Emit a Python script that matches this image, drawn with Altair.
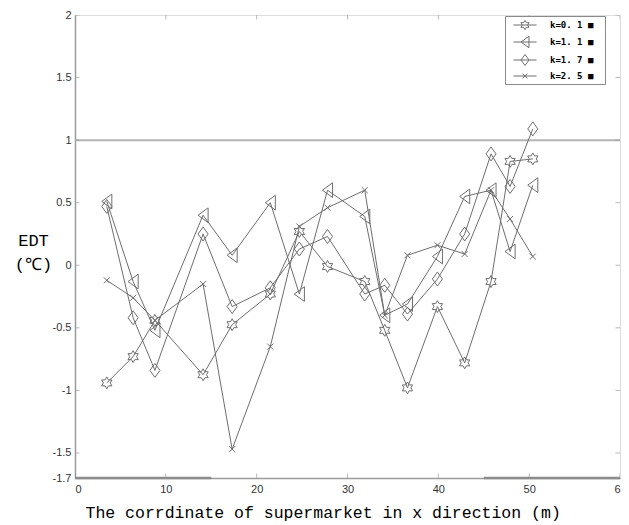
import math
import altair as alt
import pandas as pd

# ---------------- data ----------------
series = ["k=0. 1 ■", "k=1. 1 ■", "k=1. 7 ■", "k=2. 5 ■"]
x_pos = [3.5, 6.4, 8.8, 14.1, 17.3, 21.5, 24.7, 27.8, 31.9, 34.1, 36.6, 39.9, 42.9, 45.8, 47.9, 50.4]
y_k01 = [-0.94, -0.73, -0.44, -0.875, -0.475, -0.23, 0.27, -0.01, -0.13, -0.52, -0.98, -0.33, -0.78, -0.13, 0.83, 0.85]
y_k11 = [0.51, -0.13, -0.52, 0.40, 0.08, 0.50, -0.23, 0.60, 0.39, -0.40, -0.31, 0.07, 0.55, 0.60, 0.11, 0.64]
y_k17 = [0.47, -0.42, -0.84, 0.25, -0.33, -0.18, 0.13, 0.23, -0.23, -0.16, -0.39, -0.11, 0.25, 0.89, 0.63, 1.09]
y_k25 = [-0.12, -0.26, -0.44, -0.15, -1.47, -0.65, 0.31, 0.46, 0.60, -0.40, 0.08, 0.16, 0.09, 0.60, 0.37, 0.07]

x_ticks = [0, 10, 20, 30, 40, 50, 60]
y_ticks = [-1.7, -1.5, -1, -0.5, 0, 0.5, 1, 1.5, 2]
ref_line = [1]
seg_start = [0, 45]
seg_end = [15, 60]

GRAY = "#6e6e6e"
AX = "#9a9a9a"

rows = []
for name, ys in zip(series, [y_k01, y_k11, y_k17, y_k25]):
    for x, y in zip(x_pos, ys):
        rows.append({"series": name, "x": x, "y": y})
df = pd.DataFrame(rows)

# ---------------- marker shapes ----------------
pts = []
for i in range(12):
    a = -math.pi / 2 + i * math.pi / 6
    r = 0.85 if i % 2 == 0 else 0.85 * 0.577
    pts.append(f"{r*math.cos(a):.3f},{r*math.sin(a):.3f}")
hexagram = "M" + "L".join(pts) + "Z"
tri_left = "M-0.72,0L0.72,-1.05L0.72,1.05Z"
diamond = "M0,-1L0.72,0L0,1L-0.72,0Z"
xcross = "M-0.43,-0.43L0.43,0.43M-0.43,0.43L0.43,-0.43"
shapes = [hexagram, tri_left, diamond, xcross]
legend_shapes = [s + "M-2.1,0L2.1,0" for s in shapes]

xscale = alt.Scale(domain=[0, 60], nice=False, zero=False)
yscale = alt.Scale(domain=[-1.7, 2], nice=False, zero=False)

xaxis = alt.Axis(
    values=x_ticks, ticks=False, grid=False, domainColor=AX, domainWidth=1.5,
    labelFont="Liberation Sans", labelFontSize=11, labelColor="#333", labelPadding=5,
    labelExpr="datum.value == 60 ? '6' : '' + datum.value",
    title="The corrdinate of supermarket in x direction (m)",
    titleFont="Liberation Mono", titleFontSize=16.5, titleFontWeight="normal", titleColor="black",
    titleAnchor="start", titleAlign="left", titleX=10, titleY=39, titleBaseline="alphabetic",
)
yaxis = alt.Axis(
    values=y_ticks, ticks=False, grid=False, domainColor=AX, domainWidth=1.5,
    labelFont="Liberation Sans", labelFontSize=11, labelColor="#333", labelPadding=4,
    labelExpr="'' + datum.value",
    title=["EDT", "(℃)"], titleAngle=0, titleAlign="center", titleBaseline="alphabetic",
    titleX=-42, titleY=230, titleLineHeight=24,
    titleFont="Liberation Mono", titleFontSize=17, titleFontWeight="normal", titleColor="black",
)

X = alt.X("x:Q", scale=xscale, axis=xaxis)
Y = alt.Y("y:Q", scale=yscale, axis=yaxis)

lines = alt.Chart(df).mark_line(color=GRAY, strokeWidth=1, clip=True).encode(
    x=X, y=Y, detail="series:N", order="x:Q"
)

points = alt.Chart(df).mark_point(filled=False, color=GRAY, strokeWidth=1, opacity=1, size=196).encode(
    x="x:Q", y="y:Q",
    shape=alt.Shape("series:N", scale=alt.Scale(domain=series, range=shapes), legend=None),
)

# legend-only layer (draws nothing: its data is filtered away)
legend_layer = alt.Chart(df).transform_filter("false").mark_point(
    filled=False, color=GRAY, strokeWidth=1, size=121
).encode(
    x="x:Q", y="y:Q",
    shape=alt.Shape(
        "series:N",
        scale=alt.Scale(domain=series, range=legend_shapes),
        legend=alt.Legend(
            title=".", titleOrient="right", titleColor="white", titleFontSize=9,
            titlePadding=6,
            orient="none", legendX=430, legendY=1, padding=3,
            strokeColor="#8a8a8a", fillColor="white", rowPadding=2,
            labelFont="DejaVu Sans Mono", labelFontWeight="bold", labelFontSize=9,
            labelColor="black", labelOffset=19, symbolOffset=11,
            symbolSize=121, symbolStrokeColor=GRAY, symbolFillColor="transparent",
            symbolStrokeWidth=1, symbolOpacity=1,
        ),
    ),
)

hline = alt.Chart(pd.DataFrame({"y": ref_line})).mark_rule(color="#b4b4b4", strokeWidth=2).encode(y="y:Q")

segs = alt.Chart(pd.DataFrame({"a": seg_start, "b": seg_end, "y": [-1.7, -1.7]})).mark_rule(
    color="#8c8c8c", strokeWidth=2.5
).encode(x="a:Q", x2="b:Q", y="y:Q")

tdx = pd.DataFrame({"v": x_ticks})
tdy = pd.DataFrame({"v": y_ticks})
tick_kw = dict(color=AX, thickness=1, size=9, clip=True)
t_bottom = alt.Chart(tdx).mark_tick(orient="vertical", **tick_kw).encode(x="v:Q", y=alt.datum(-1.7))
t_top = alt.Chart(tdx).mark_tick(orient="vertical", **tick_kw).encode(x="v:Q", y=alt.datum(2))
t_left = alt.Chart(tdy).mark_tick(orient="horizontal", **tick_kw).encode(y="v:Q", x=alt.datum(0))
t_right = alt.Chart(tdy).mark_tick(orient="horizontal", **tick_kw).encode(y="v:Q", x=alt.datum(60))

chart = alt.layer(hline, lines, points, legend_layer, segs, t_bottom, t_top, t_left, t_right).resolve_scale(
    shape="independent"
).properties(
    width=545, height=463,
    autosize=alt.AutoSizeParams(type="none"),
    padding={"left": 67, "top": 7, "right": 1, "bottom": 46},
).configure_view(stroke="#b0b0b0", strokeWidth=1.5).configure(background="white")

chart.save("out.html", embed_options={"renderer": "svg", "actions": False})
